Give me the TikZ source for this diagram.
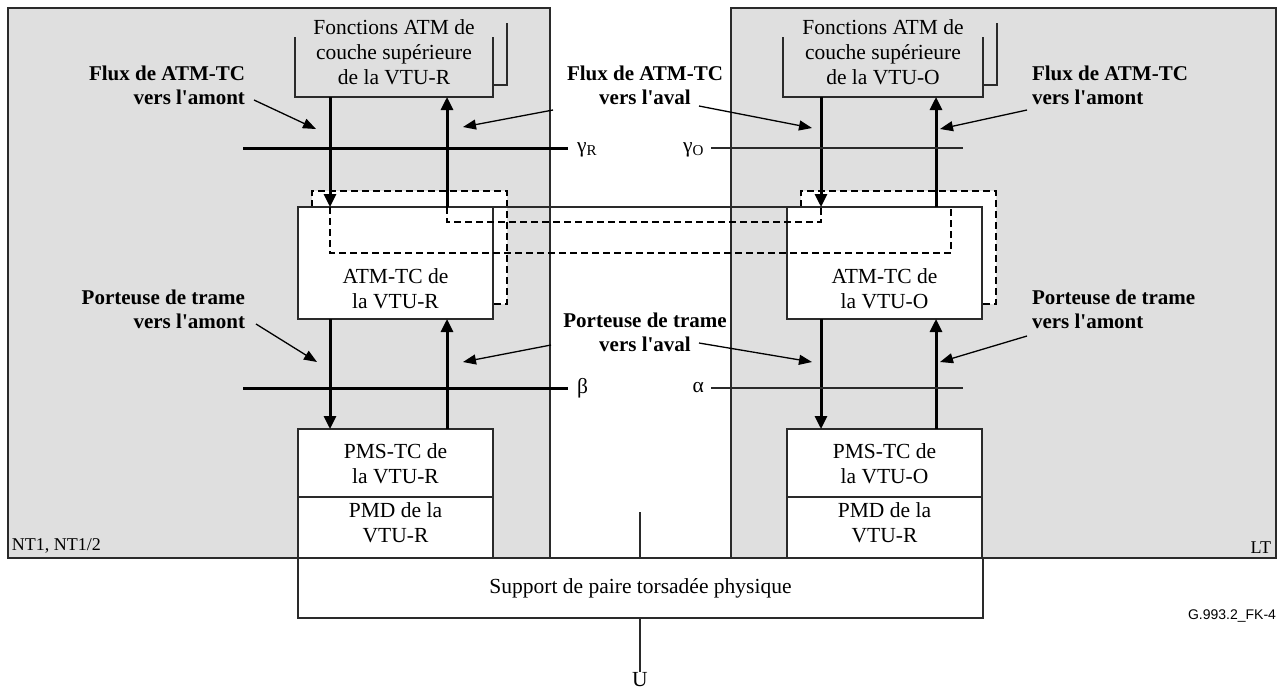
\documentclass[tikz,border=0pt]{standalone}
\usepackage{fontspec}
\setmainfont{Liberation Serif}
\newfontfamily\figsans{Liberation Sans}
\usetikzlibrary{arrows.meta,calc}
\definecolor{bg}{HTML}{DFDFDF}
\definecolor{ln}{HTML}{2A2A2A}
\newcommand{\ap}{\textquotesingle}
\begin{document}
\begin{tikzpicture}[x=1pt,y=-1pt,
  every node/.style={inner sep=0pt, outer sep=0pt},
  area/.style={draw=ln, fill=bg, line width=1.3pt},
  box/.style={draw=ln, fill=white, line width=1.3pt},
  txt/.style={font=\fontsize{21.5}{25}\selectfont, align=center, text=black},
  lbl/.style={font=\bfseries\fontsize{21}{24}\selectfont, text=black},
  flow/.style={draw=black, line width=3pt, -{Triangle[length=13pt,width=12pt]}},
  thinln/.style={draw=ln, line width=1.3pt},
  thickln/.style={draw=black, line width=3pt},
  pointer/.style={draw=black, line width=1.3pt, -{Triangle[length=13pt,width=10pt]}},
  dashln/.style={draw=black, line width=1.3pt, dash pattern=on 7pt off 4pt},
  backbox/.style={draw=black, fill=white, line width=1.3pt, dash pattern=on 7pt off 4pt}]
\useasboundingbox (0,0) rectangle (1285,691);

% grey areas
\node[area, minimum width=542, minimum height=550] (ntR) at (279,283) {};
\node[area, minimum width=545, minimum height=550] (ltO) at (1003.5,283) {};
\node[anchor=south west, font=\fontsize{18}{20}\selectfont] (ntlab) at (12,553) {NT1, NT1/2};
\node[anchor=south east, font=\fontsize{18}{20}\selectfont] (ltlab) at (1271,553) {LT};

% support
\node[box, minimum width=685, minimum height=60] (sup) at (640.5,588) {};
\node[txt] (suptxt) at (640.5,588) {Support de paire torsadée physique};
\coordinate (uref) at (640,512);
\draw[thinln] (uref) -- (uref |- sup.north);
\node[txt, anchor=north] (U) at (640,672) {U};
\draw[thinln] (sup.south -| U) -- (U.north);
\node[anchor=south east, font=\figsans\fontsize{14}{16}\selectfont] (code) at (1276,622) {G.993.2\_FK-4};

% upper function boxes (open top) and back brackets
\node[minimum width=198, minimum height=60] (fnR) at (394,67) {};
\draw[thinln] (fnR.north west) -- (fnR.south west) -- (fnR.south east) -- (fnR.north east);
\draw[thinln] (507,23) -- (507,85) -- (fnR.south east |- 0,85);
\node[txt] (fnRt) at (394,52) {Fonctions ATM de\\couche supérieure\\de la VTU-R};
\node[minimum width=200, minimum height=60] (fnO) at (883,67) {};
\draw[thinln] (fnO.north west) -- (fnO.south west) -- (fnO.south east) -- (fnO.north east);
\draw[thinln] (997,23) -- (997,85) -- (fnO.south east |- 0,85);
\node[txt] (fnOt) at (883,52) {Fonctions ATM de\\couche supérieure\\de la VTU-O};

% ATM-TC back boxes and boxes
\draw[backbox] (312,207) -- (312,191) -- (507,191) -- (507,304) -- (493,304);
\draw[backbox] (801,207) -- (801,191) -- (996,191) -- (996,304) -- (982,304);
\node[box, minimum width=195, minimum height=112] (atmR) at (395.5,263) {};
\node[txt] (atmRt) at (395.5,289) {ATM-TC de\\la VTU-R};
\node[box, minimum width=195, minimum height=112] (atmO) at (884.5,263) {};
\node[txt] (atmOt) at (884.5,289) {ATM-TC de\\la VTU-O};
\draw[thinln] (atmR.north east) -- (atmO.north west);

% columns
\coordinate (dnR) at (330,0);
\coordinate (upR) at (447,0);
\coordinate (dnO) at (821,0);
\coordinate (upO) at (936,0);

% dashed connections
\draw[dashln] (atmR.north -| dnR) -- (330,253) -- (951,253) -- (atmO.north -| 951,0);
\draw[dashln] (atmR.north -| upR) -- (447,222) -- (821,222) -- (atmO.north -| dnO);

% PMS / PMD boxes
\node[box, minimum width=195, minimum height=68] (pmsR) at (395.5,463) {};
\node[txt] (pmsRt) at (395.5,464) {PMS-TC de\\la VTU-R};
\node[box, minimum width=195, minimum height=61] (pmdR) at (395.5,527.5) {};
\node[txt] (pmdRt) at (395.5,523) {PMD de la\\VTU-R};
\node[box, minimum width=195, minimum height=68] (pmsO) at (884.5,463) {};
\node[txt] (pmsOt) at (884.5,464) {PMS-TC de\\la VTU-O};
\node[box, minimum width=195, minimum height=61] (pmdO) at (884.5,527.5) {};
\node[txt] (pmdOt) at (884.5,523) {PMD de la\\VTU-R};

% flows
\draw[flow] (fnR.south -| dnR) -- (atmR.north -| dnR);
\draw[flow] (atmR.north -| upR) -- (fnR.south -| upR);
\draw[flow] (atmR.south -| dnR) -- (pmsR.north -| dnR);
\draw[flow] (pmsR.north -| upR) -- (atmR.south -| upR);
\draw[flow] (fnO.south -| dnO) -- (atmO.north -| dnO);
\draw[flow] (atmO.north -| upO) -- (fnO.south -| upO);
\draw[flow] (atmO.south -| dnO) -- (pmsO.north -| dnO);
\draw[flow] (pmsO.north -| upO) -- (atmO.south -| upO);

% reference points
\node[txt, anchor=west] (gR) at (577,150) {γ\textsubscript{R}};
\node[txt, anchor=east] (gO) at (704,150) {γ\textsubscript{O}};
\node[txt, anchor=west] (beta) at (577,388) {β};
\node[txt, anchor=east] (alpha) at (704,388) {α};
\draw[thickln] (243,148) -- (568,148);
\draw[thinln] (711,148) -- (963,148);
\draw[thickln] (243,388) -- (568,388);
\draw[thinln] (711,388) -- (963,388);

% labels
\node[lbl, anchor=east, align=right] (l1) at (245,85) {Flux de ATM-TC\\vers l\ap amont};
\node[lbl, align=center] (l2) at (645,85) {Flux de ATM-TC\\vers l\ap aval};
\node[lbl, anchor=west, align=left] (l3) at (1032,85) {Flux de ATM-TC\\vers l\ap amont};
\node[lbl, anchor=east, align=right] (l4) at (245,309) {Porteuse de trame\\vers l\ap amont};
\node[lbl, align=center] (l5) at (645,332) {Porteuse de trame\\vers l\ap aval};
\node[lbl, anchor=west, align=left] (l6) at (1032,309) {Porteuse de trame\\vers l\ap amont};

\coordinate (s1) at (254,100);
\coordinate (s2a) at (553,110);
\coordinate (s2b) at (699,106);
\coordinate (s3) at (1027,110);
\coordinate (s4) at (256,324);
\coordinate (s5a) at (551,345);
\coordinate (s5b) at (699,343);
\coordinate (s6) at (1027,336);
\coordinate (t1) at (316,129);
\coordinate (t2a) at (463,127);
\coordinate (t2b) at (812,128);
\coordinate (t3) at (940,129);
\coordinate (t4) at (317,362);
\coordinate (t5a) at (463,362);
\coordinate (t5b) at (812,362);
\coordinate (t6) at (940,362);
\draw[pointer] (s1) -- (t1);
\draw[pointer] (s2a) -- (t2a);
\draw[pointer] (s2b) -- (t2b);
\draw[pointer] (s3) -- (t3);
\draw[pointer] (s4) -- (t4);
\draw[pointer] (s5a) -- (t5a);
\draw[pointer] (s5b) -- (t5b);
\draw[pointer] (s6) -- (t6);
\end{tikzpicture}
\end{document}
